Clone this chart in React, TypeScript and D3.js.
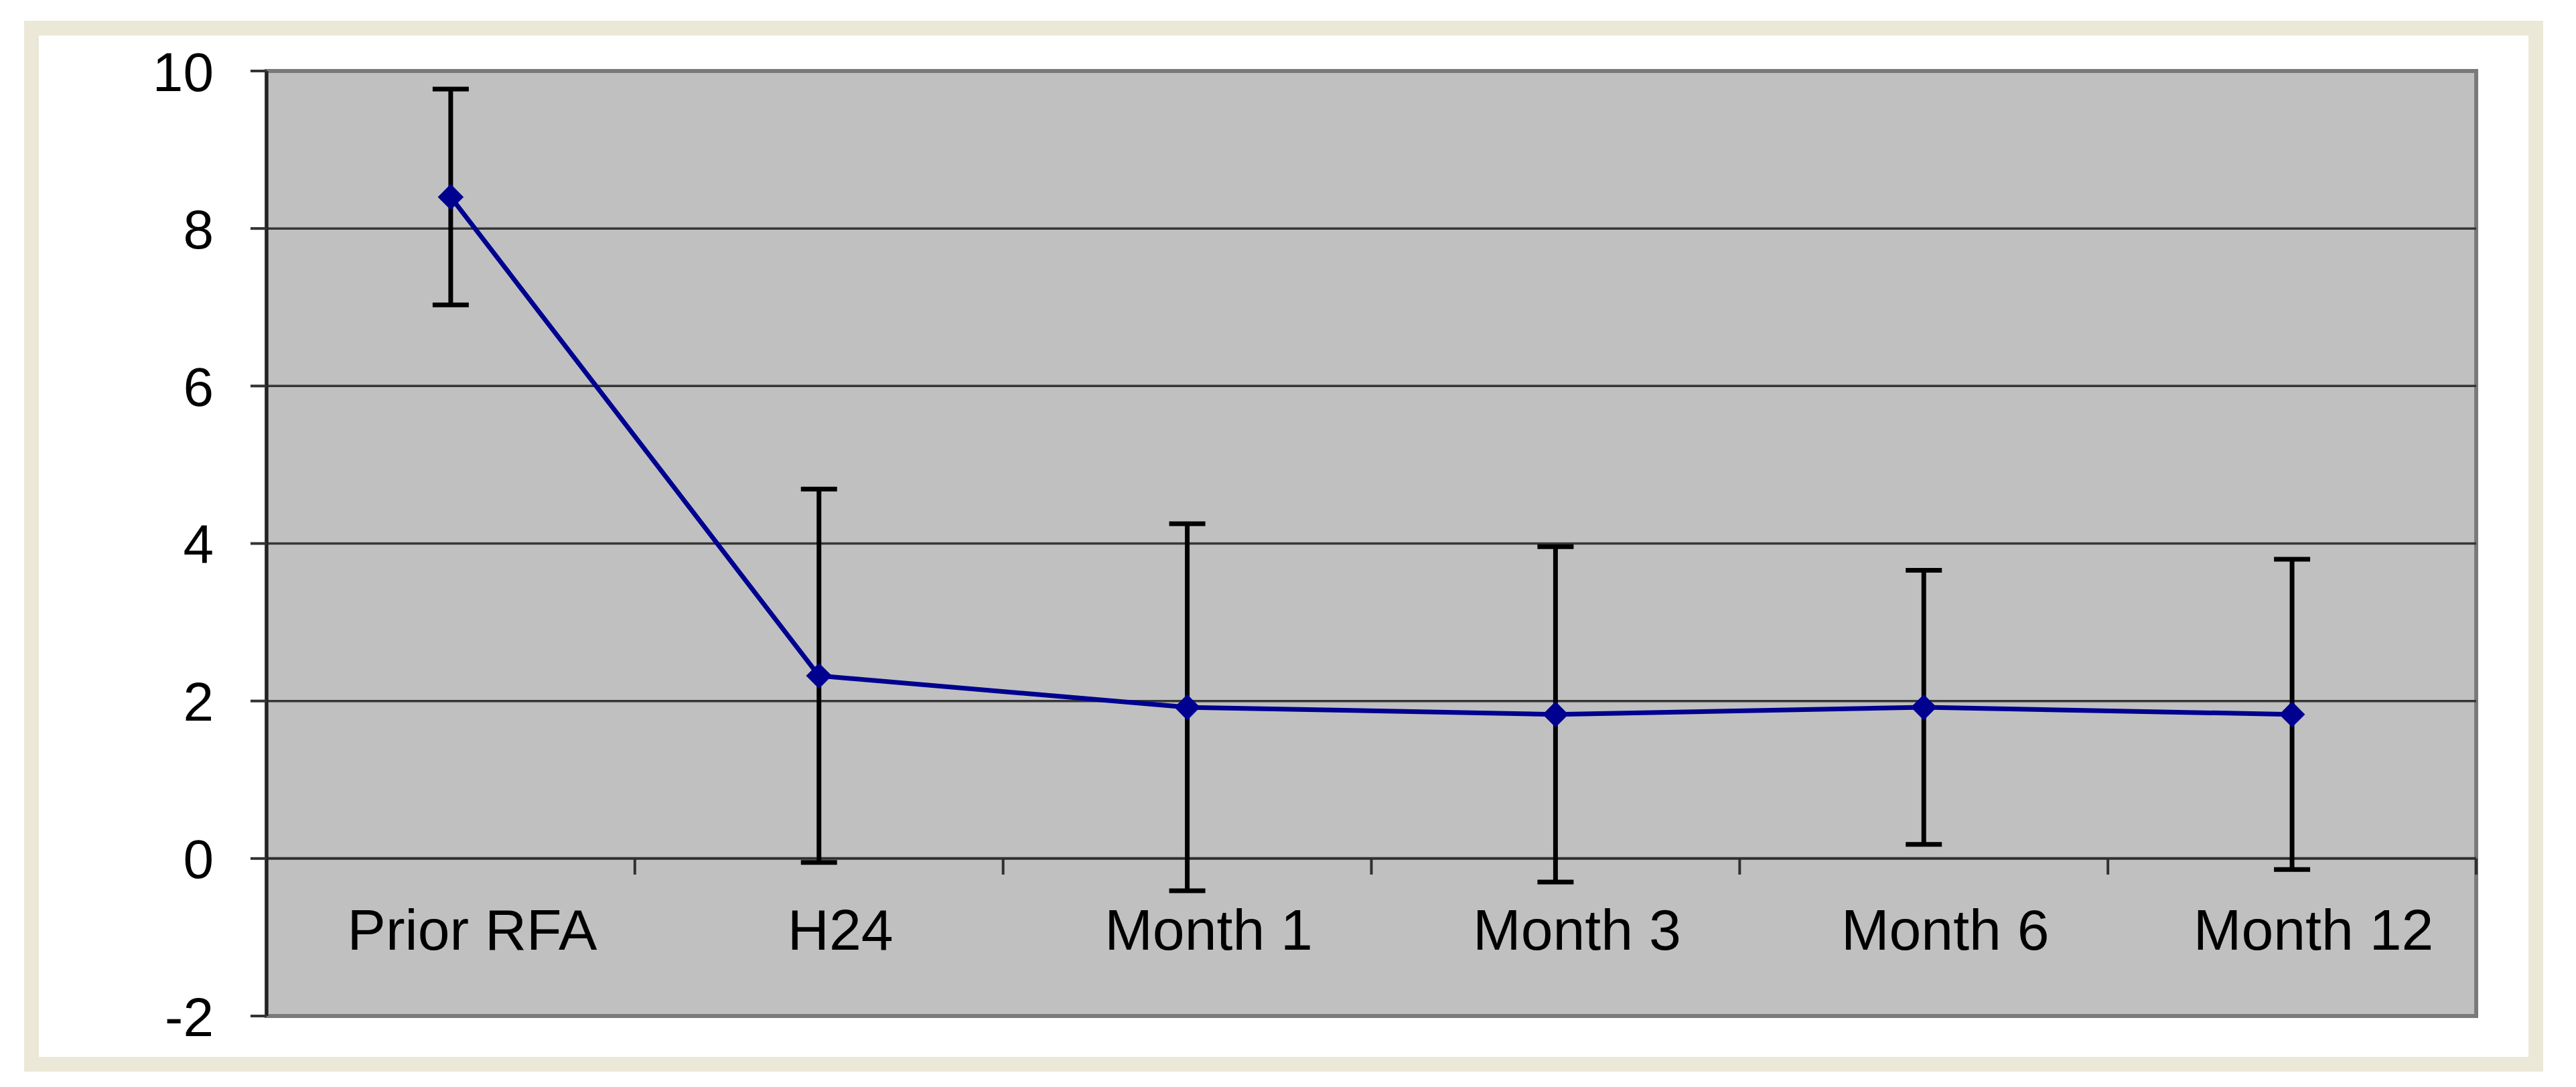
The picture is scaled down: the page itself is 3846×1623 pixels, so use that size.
import React from "react";
import * as d3 from "d3";

const categories = ["Prior RFA", "H24", "Month 1", "Month 3", "Month 6", "Month 12"];
const means = [8.4, 2.32, 1.92, 1.83, 1.92, 1.83];
const errors = [1.37, 2.37, 2.33, 2.13, 1.74, 1.97];
const yTicks = [-2, 0, 2, 4, 6, 8, 10];

const W = 3846;
const H = 1623;
const plot = { left: 398, right: 3697, top: 106, bottom: 1517 };
const FONT = "'Liberation Sans', Arial, Helvetica, sans-serif";

export default function App() {
  const x = d3
    .scaleBand<string>()
    .domain(categories)
    .range([plot.left, plot.right])
    .padding(0);
  const y = d3.scaleLinear().domain([-2, 10]).range([plot.bottom, plot.top]);
  const cx = (c: string) => (x(c) as number) + x.bandwidth() / 2;

  const data = categories.map((c, i) => ({ c, m: means[i], e: errors[i] }));
  const line = d3
    .line<{ c: string; m: number }>()
    .x((d) => cx(d.c))
    .y((d) => y(d.m));
  const diamond = d3.symbol(d3.symbolDiamond2, 950)();

  const capHalf = 27;

  return (
    <svg
      width={W}
      height={H}
      style={{ position: "absolute", left: 0, top: 0, display: "block" }}
    >
      <rect x={0} y={0} width={W} height={H} fill="#ffffff" />
      {/* beige frame */}
      <rect x={47} y={42} width={3739} height={1547} fill="none" stroke="#ebe8d7" strokeWidth={22} />
      {/* plot background */}
      <rect
        x={plot.left}
        y={plot.top}
        width={plot.right - plot.left}
        height={plot.bottom - plot.top}
        fill="#c0c0c0"
        stroke="#7a7a7a"
        strokeWidth={6}
      />
      {/* gridlines */}
      {yTicks
        .filter((t) => t > 0 && t < 10)
        .map((t) => (
          <line
            key={"g" + t}
            x1={plot.left}
            x2={plot.right}
            y1={y(t)}
            y2={y(t)}
            stroke="#363636"
            strokeWidth={3.5}
          />
        ))}
      {/* x axis at zero */}
      <line x1={plot.left} x2={plot.right} y1={y(0)} y2={y(0)} stroke="#303030" strokeWidth={4} />
      {categories.map((c, i) => {
        const bx = (x(c) as number) + x.bandwidth();
        return (
          <line key={"xt" + i} x1={bx} x2={bx} y1={y(0)} y2={y(0) + 24} stroke="#303030" strokeWidth={4} />
        );
      })}
      {/* y axis */}
      <line x1={plot.left} x2={plot.left} y1={plot.top} y2={plot.bottom} stroke="#222" strokeWidth={5} />
      {yTicks.map((t) => (
        <g key={"yt" + t}>
          <line x1={plot.left - 24} x2={plot.left} y1={y(t)} y2={y(t)} stroke="#333" strokeWidth={4} />
          <text
            x={319}
            y={y(t)}
            dy="0.36em"
            textAnchor="end"
            fontFamily={FONT}
            fontSize={82}
            fill="#000"
          >
            {t}
          </text>
        </g>
      ))}
      {/* category labels */}
      {categories.map((c) => (
        <text
          key={"xl" + c}
          x={cx(c) + 32}
          y={1418}
          textAnchor="middle"
          fontFamily={FONT}
          fontSize={86}
          fill="#000"
        >
          {c}
        </text>
      ))}
      {/* error bars */}
      {data.map((d) => (
        <g key={"e" + d.c} stroke="#000" strokeWidth={7}>
          <line x1={cx(d.c)} x2={cx(d.c)} y1={y(d.m + d.e)} y2={y(d.m - d.e)} />
          <line x1={cx(d.c) - capHalf} x2={cx(d.c) + capHalf} y1={y(d.m + d.e)} y2={y(d.m + d.e)} />
          <line x1={cx(d.c) - capHalf} x2={cx(d.c) + capHalf} y1={y(d.m - d.e)} y2={y(d.m - d.e)} />
        </g>
      ))}
      {/* series line */}
      <path d={line(data) || ""} fill="none" stroke="#000090" strokeWidth={7} strokeLinejoin="round" />
      {data.map((d) => (
        <path
          key={"m" + d.c}
          d={diamond || ""}
          transform={`translate(${cx(d.c)},${y(d.m)})`}
          fill="#000090"
        />
      ))}
    </svg>
  );
}
